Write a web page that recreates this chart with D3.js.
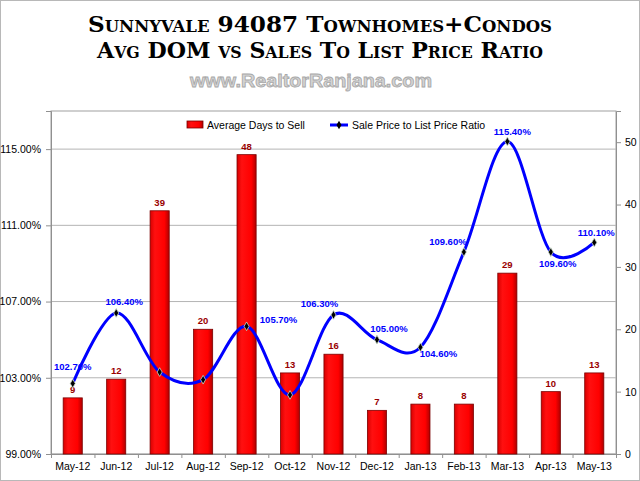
<!DOCTYPE html>
<html>
<head>
<meta charset="utf-8">
<script src="https://cdn.jsdelivr.net/npm/d3@7"></script>
<style>
  body { margin: 0; background: #fff; }
  text { font-family: 'Liberation Sans', Arial, sans-serif; }
  text.title { font-family: 'DejaVu Serif', 'Liberation Serif', serif; font-weight: bold; font-variant: small-caps; }
</style>
</head>
<body>
<svg id="chart"></svg>
<script>
// data
const months = ['May-12','Jun-12','Jul-12','Aug-12','Sep-12','Oct-12','Nov-12','Dec-12','Jan-13','Feb-13','Mar-13','Apr-13','May-13']
const daysToSell = [9, 12, 39, 20, 48, 13, 16, 7, 8, 8, 29, 10, 13]
const priceRatio = [102.7, 106.4, 103.3, 102.9, 105.7, 102.1, 106.3, 105.0, 104.6, 109.6, 115.4, 109.6, 110.1]
// which ratio points carry a label in the original
const ratioLabelShown = [true, true, false, false, true, false, true, true, true, true, true, true, true]
const leftTicks = [99, 103, 107, 111, 115]
const rightTicks = [0, 10, 20, 30, 40, 50]

// label nudges (dx, dy) for the ratio labels, so they sit where excel put them
const labelNudge = [[0,-13],[8,-8],[0,0],[0,0],[32,-3],[0,0],[-14,-8],[12,-8],[18,10],[-16,-7],[5,-6],[7,15],[2,-6]]

const W = 640, H = 481
const plot = {left: 51, right: 616, top: 111, bottom: 454}

const svg = d3.select('#chart').attr('width', W).attr('height', H)

svg.append('rect').attr('x', 0.5).attr('y', 0.5).attr('width', W-1).attr('height', H-1)
  .attr('fill', '#fff').attr('stroke', '#b8b8b8')

// titles
svg.append('text').attr('class', 'title').attr('x', 320).attr('y', 31.5).attr('text-anchor', 'middle')
  .attr('font-size', 22.5)
  .attr('textLength', 464).attr('lengthAdjust', 'spacingAndGlyphs')
  .text('Sunnyvale 94087 Townhomes+Condos')
svg.append('text').attr('class', 'title').attr('x', 320).attr('y', 57.5).attr('text-anchor', 'middle')
  .attr('font-size', 22.5)
  .attr('textLength', 446).attr('lengthAdjust', 'spacingAndGlyphs')
  .text('Avg DOM vs Sales To List Price Ratio')
svg.append('text').attr('x', 311).attr('y', 87).attr('text-anchor', 'middle')
  .attr('font-weight', 'bold').attr('font-size', 18)
  .attr('fill', '#d4d4d4').attr('stroke', '#a8a8a8').attr('stroke-width', 0.8)
  .attr('textLength', 242).attr('lengthAdjust', 'spacingAndGlyphs')
  .text('www.RealtorRanjana.com')

// scales
const x = d3.scaleBand().domain(months).range([plot.left, plot.right]).paddingInner(0.56).paddingOuter(0.28)
const xEdges = d3.scaleLinear().domain([0, months.length]).range([plot.left, plot.right])
const yLeft = d3.scaleLinear().domain([99, 117]).range([plot.bottom, plot.top])
const yRight = d3.scaleLinear().domain([0, 55]).range([plot.bottom, plot.top])

// plot frame
svg.append('rect').attr('x', plot.left).attr('y', plot.top)
  .attr('width', plot.right-plot.left).attr('height', plot.bottom-plot.top)
  .attr('fill', 'none').attr('stroke', '#a0a0a0')

// gridlines on left ticks
svg.append('g').selectAll('line').data(leftTicks).join('line')
  .attr('x1', plot.left).attr('x2', plot.right)
  .attr('y1', d => yLeft(d)).attr('y2', d => yLeft(d))
  .attr('stroke', '#b4b4b4')

// axes
const styleAxis = g => {
  g.select('.domain').attr('stroke', '#909090')
  g.selectAll('.tick line').attr('stroke', '#909090')
  g.selectAll('.tick text').attr('fill', '#000').attr('font-size', 10.5)
}
svg.append('g').attr('transform', `translate(${plot.left},0)`)
  .call(d3.axisLeft(yLeft).tickValues(leftTicks).tickSize(5).tickPadding(5).tickFormat(d => d3.format('.2f')(d) + '%'))
  .call(styleAxis)
svg.append('g').attr('transform', `translate(${plot.right},0)`)
  .call(d3.axisRight(yRight).tickValues(rightTicks).tickSize(5).tickPadding(4))
  .call(styleAxis)
svg.append('g').attr('transform', `translate(0,${plot.bottom})`)
  .call(d3.axisBottom(xEdges).ticks(months.length).tickSize(4).tickFormat(''))
  .call(styleAxis)
svg.append('g').attr('transform', `translate(0,${plot.bottom})`)
  .call(d3.axisBottom(x).tickSize(0).tickPadding(9))
  .call(styleAxis)
  .call(g => g.select('.domain').remove())

// bar gradient
const defs = svg.append('defs')
const grad = defs.append('linearGradient').attr('id', 'barGrad').attr('x1', 0).attr('x2', 1).attr('y1', 0).attr('y2', 0)
grad.append('stop').attr('offset', '0%').attr('stop-color', '#d80000')
grad.append('stop').attr('offset', '25%').attr('stop-color', '#ff1010')
grad.append('stop').attr('offset', '75%').attr('stop-color', '#ff0000')
grad.append('stop').attr('offset', '100%').attr('stop-color', '#b00000')

const bars = svg.append('g')
bars.selectAll('rect').data(daysToSell).join('rect')
  .attr('x', (d, i) => x(months[i]))
  .attr('y', d => yRight(d))
  .attr('width', x.bandwidth())
  .attr('height', d => plot.bottom - yRight(d))
  .attr('fill', 'url(#barGrad)')
  .attr('stroke', '#7a0000').attr('stroke-width', 0.8)

bars.selectAll('text').data(daysToSell).join('text')
  .attr('x', (d, i) => x(months[i]) + x.bandwidth()/2)
  .attr('y', d => yRight(d) - 5)
  .attr('text-anchor', 'middle')
  .attr('font-weight', 'bold').attr('font-size', 9.5)
  .attr('fill', '#990000')
  .text(d => d)

// ratio line
const cx = i => x(months[i]) + x.bandwidth()/2
const line = d3.line()
  .x((d, i) => cx(i))
  .y(d => yLeft(d))
  .curve(d3.curveCatmullRom.alpha(0))

svg.append('path').datum(priceRatio)
  .attr('d', line)
  .attr('fill', 'none').attr('stroke', '#0000ff').attr('stroke-width', 3)

const diamond = d3.symbol().type(d3.symbolDiamond).size(22)
svg.append('g').selectAll('path').data(priceRatio).join('path')
  .attr('transform', (d, i) => `translate(${cx(i)},${yLeft(d)})`)
  .attr('d', diamond)
  .attr('fill', '#000').attr('stroke', '#c8d8c8').attr('stroke-width', 0.8)

const labelled = priceRatio.map((v, i) => ({v, i})).filter(d => ratioLabelShown[d.i])
svg.append('g').selectAll('text').data(labelled).join('text')
  .attr('x', d => cx(d.i) + labelNudge[d.i][0])
  .attr('y', d => yLeft(d.v) + labelNudge[d.i][1])
  .attr('text-anchor', 'middle')
  .attr('font-weight', 'bold').attr('font-size', 9.5)
  .attr('fill', '#0000ff')
  .text(d => d3.format('.2f')(d.v) + '%')

// legend
const lg = svg.append('g')
lg.append('rect').attr('x', 187).attr('y', 121).attr('width', 16).attr('height', 7)
  .attr('fill', 'url(#barGrad)').attr('stroke', '#7a0000').attr('stroke-width', 0.8)
lg.append('text').attr('x', 207).attr('y', 129).attr('font-size', 10.5).text('Average Days to Sell')
lg.append('line').attr('x1', 330).attr('x2', 348).attr('y1', 125).attr('y2', 125)
  .attr('stroke', '#0000ff').attr('stroke-width', 3)
lg.append('path').attr('transform', 'translate(339,125)').attr('d', diamond).attr('fill', '#000')
lg.append('text').attr('x', 352).attr('y', 129).attr('font-size', 10.5).text('Sale Price to List Price Ratio')
</script>
</body>
</html>
